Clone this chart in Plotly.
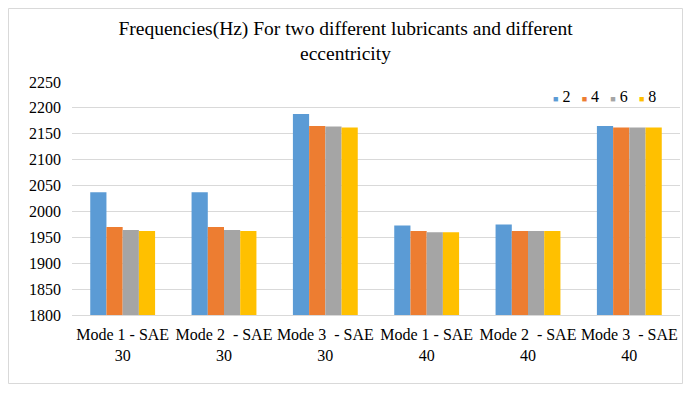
import plotly.graph_objects as go

categories = ["Mode 1 - SAE<br>30", "Mode 2\u00a0 - SAE<br>30", "Mode 3\u00a0 - SAE<br>30",
              "Mode 1 - SAE<br>40", "Mode 2\u00a0 - SAE<br>40", "Mode 3\u00a0 - SAE<br>40"]
series_names = ["2", "4", "6", "8"]
values_2 = [2037, 2037, 2188, 1973, 1975, 2165]
values_4 = [1970, 1970, 2165, 1962, 1962, 2162]
values_6 = [1964, 1964, 2164, 1960, 1962, 2162]
values_8 = [1962, 1962, 2162, 1960, 1962, 2162]
colors = ["#5B9BD5", "#ED7D31", "#A5A5A5", "#FFC000"]
y_ticks = [1800, 1850, 1900, 1950, 2000, 2050, 2100, 2150, 2200, 2250]

FONT = "Liberation Serif, Times New Roman, serif"
# page body has an 8px margin, so the figure occupies (8,8)-(683,384)
W, H = 675, 376
ML, MR, MT, MB = 64, 3, 74, 69

fig = go.Figure()
for name, vals, col in zip(series_names, [values_2, values_4, values_6, values_8], colors):
    fig.add_trace(go.Bar(x=categories, y=vals, name=name, marker=dict(color=col, line=dict(width=0)),
                         showlegend=False))

legend_text = "&nbsp;&nbsp;&#8201;".join(
    f'<span style="color:{c};font-size:9px">■</span>&nbsp;{n}' for n, c in zip(series_names, colors)
)

pw = W - ML - MR
ph = H - MT - MB

fig.update_layout(
    width=W, height=H,
    margin=dict(l=ML, r=MR, t=MT, b=MB),
    paper_bgcolor="white", plot_bgcolor="white",
    font=dict(family=FONT, color="#000000", size=16),
    title=dict(text="Frequencies(Hz) For two different lubricants and different<br>eccentricity",
               x=0.5, xanchor="center", y=1 - 27 / H, yanchor="middle",
               font=dict(family=FONT, size=19.5, color="#000000")),
    barmode="group", bargap=0.36, bargroupgap=0,
    xaxis=dict(showgrid=False, showline=True, linecolor="#D9D9D9", linewidth=1,
               tickfont=dict(family=FONT, size=16, color="#000000"), ticks="",
               ticklabelstandoff=5),
    yaxis=dict(range=[1800, 2250], tickvals=y_ticks, showgrid=True, gridcolor="#D9D9D9",
               gridwidth=1, zeroline=False, showline=False, ticks="",
               tickfont=dict(family=FONT, size=16, color="#000000"), ticklabelstandoff=10),
    annotations=[dict(text=legend_text, xref="paper", yref="paper",
                      x=(551 - 8 - ML) / pw, y=(H - MB - (96 - 8)) / ph, xanchor="left", yanchor="middle",
                      showarrow=False, font=dict(family=FONT, size=16, color="#000000"))],
    shapes=[dict(type="rect", xref="paper", yref="paper",
                 x0=(0.5 - ML) / pw, x1=(W - 0.5 - ML) / pw,
                 y0=(H - MB - (H - 0.5)) / ph, y1=(H - MB - 0.5) / ph,
                 line=dict(color="#D9D9D9", width=1), fillcolor="rgba(0,0,0,0)", layer="below")],
)

fig.write_html("out.html")
